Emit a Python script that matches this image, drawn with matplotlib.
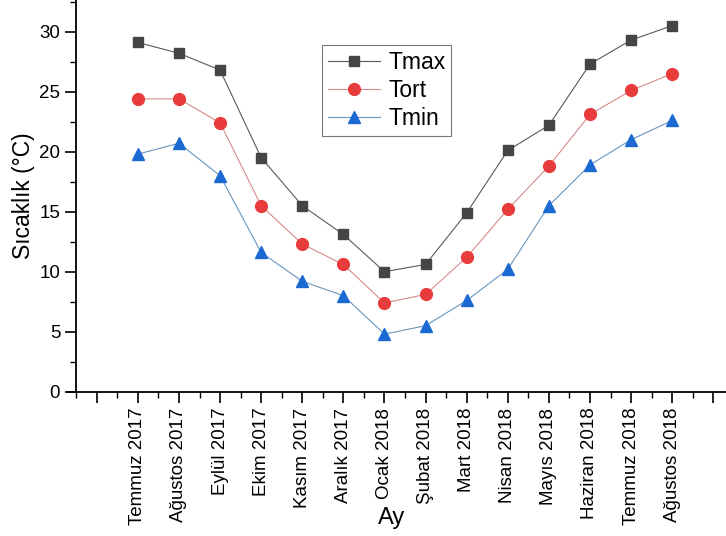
import numpy as np
import matplotlib
matplotlib.use("Agg")
import matplotlib.pyplot as plt
from matplotlib.ticker import MultipleLocator

plt.rcParams['font.family'] = ['Liberation Sans', 'DejaVu Sans']

months = ["Temmuz 2017", "Ağustos 2017", "Eylül 2017", "Ekim 2017", "Kasım 2017",
          "Aralık 2017", "Ocak 2018", "Şubat 2018", "Mart 2018", "Nisan 2018",
          "Mayıs 2018", "Haziran 2018", "Temmuz 2018", "Ağustos 2018"]
tmax = [29.1, 28.2, 26.8, 19.5, 15.5, 13.1, 10.0, 10.6, 14.9, 20.1, 22.2, 27.3, 29.3, 30.5]
tort = [24.4, 24.4, 22.4, 15.5, 12.3, 10.6, 7.4, 8.1, 11.2, 15.2, 18.8, 23.1, 25.1, 26.5]
tmin = [19.8, 20.7, 18.0, 11.6, 9.2, 8.0, 4.8, 5.5, 7.6, 10.2, 15.5, 18.9, 21.0, 22.6]

x = np.arange(1, len(months) + 1)

fig = plt.figure(figsize=(7.26, 5.36), dpi=100)
ax = fig.add_axes([68 / 726, 1 - 391.7 / 536, 1 - 68 / 726, 391.7 / 536])

ax.plot(x, tmax, color="#5a5a5a", lw=0.8, marker="s", ms=7.5,
        mfc="#454545", mec="#454545", label="Tmax")
ax.plot(x, tort, color="#d98a8a", lw=0.8, marker="o", ms=8.5,
        mfc="#e83b3b", mec="#e83b3b", label="Tort")
ax.plot(x, tmin, color="#6a96bd", lw=0.8, marker="^", ms=8.5,
        mfc="#1b69d2", mec="#1b69d2", label="Tmin")

ax.set_xlim(-0.7, 15.31)
ax.set_ylim(0, 32.64)
ax.spines['left'].set_position(('data', -0.5))
ax.spines['top'].set_visible(False)
ax.spines['right'].set_visible(False)
for s in ('left', 'bottom'):
    ax.spines[s].set_linewidth(1.3)

ax.set_xticks(np.arange(0, 16))
ax.set_xticklabels([""] + months + [""], rotation=90, fontsize=13.5)
ax.xaxis.set_minor_locator(MultipleLocator(1, offset=0.5))
ax.yaxis.set_major_locator(MultipleLocator(5))
ax.yaxis.set_minor_locator(MultipleLocator(2.5))
ax.tick_params(axis='both', which='major', direction='out', length=8, width=1.2,
               labelsize=13.5)
ax.tick_params(axis='both', which='minor', direction='out', length=4, width=1.0)

ax.set_ylabel("Sıcaklık (°C)", fontsize=16.5, labelpad=3)
ax.set_xlabel("Ay", fontsize=17)
ax.xaxis.set_label_coords(0.492, -0.295)

leg = ax.legend(loc="upper left", bbox_to_anchor=(322 / 726, 1 - 45 / 536),
                bbox_transform=fig.transFigure, borderaxespad=0, fontsize=16.5,
                handlelength=2.3, handletextpad=0.35, labelspacing=0.22,
                fancybox=False, frameon=True, borderpad=0.25)
leg.get_frame().set_edgecolor("#555555")
leg.get_frame().set_linewidth(0.8)

fig.savefig("out.png", dpi=100)
